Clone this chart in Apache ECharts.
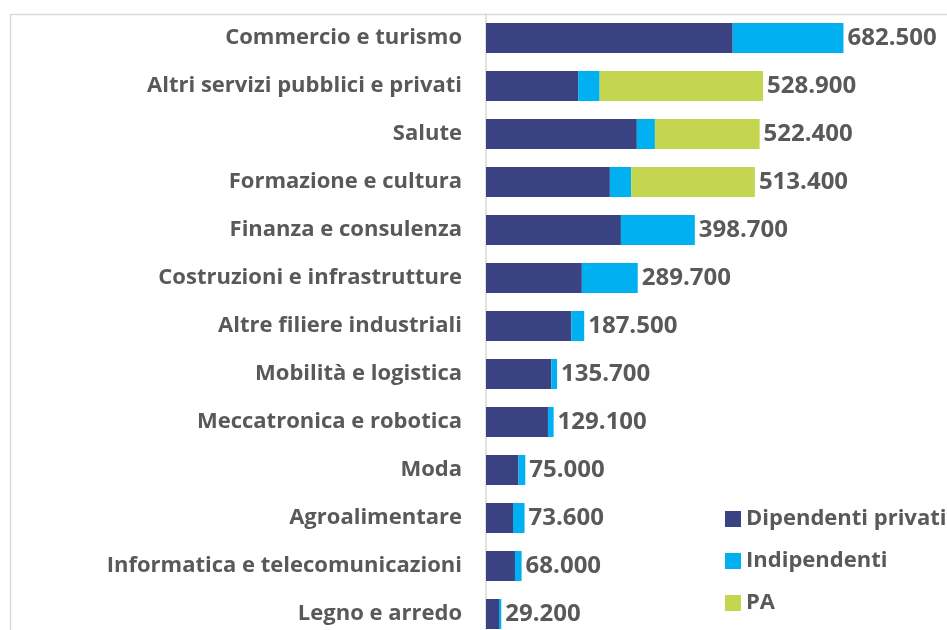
<!DOCTYPE html>
<html>
<head>
<meta charset="utf-8">
<script src="https://cdn.jsdelivr.net/npm/echarts@6/dist/echarts.min.js"></script>
<style>
  html, body { margin: 0; padding: 0; background: #fff; }
  #chart { width: 947px; height: 630px; }
</style>
</head>
<body>
<div id="chart"></div>
<script>
// settori, dall'alto verso il basso
const settori = [
  'Commercio e turismo',
  'Altri servizi pubblici e privati',
  'Salute',
  'Formazione e cultura',
  'Finanza e consulenza',
  'Costruzioni e infrastrutture',
  'Altre filiere industriali',
  'Mobilità e logistica',
  'Meccatronica e robotica',
  'Moda',
  'Agroalimentare',
  'Informatica e telecomunicazioni',
  'Legno e arredo'
]
// valori in migliaia
const dipendentiPrivati = [471, 176, 288, 236.5, 257.6, 183, 162.8, 124.7, 118.3, 62, 51.5, 55.3, 24.8]
const indipendenti = [211.5, 41, 34.5, 40.8, 141.1, 106.7, 24.7, 11, 10.8, 13, 22.1, 12.7, 4.4]
const pa = [0, 311.9, 199.9, 236.1, 0, 0, 0, 0, 0, 0, 0, 0, 0]
// totali mostrati come etichetta
const totali = [682500, 528900, 522400, 513400, 398700, 289700, 187500, 135700, 129100, 75000, 73600, 68000, 29200]

const grigio = '#595959'
const font = '"Open Sans", sans-serif'

function formatta (n) {
  return String(n).replace(/\B(?=(\d{3})+(?!\d))/g, '.')
}

const chart = echarts.init(document.getElementById('chart'))
chart.setOption({
  animation: false,
  color: ['#3a4282', '#00b0f0', '#c4d650'],
  graphic: [{
    type: 'rect',
    left: 8,
    top: 12,
    shape: { width: 1200, height: 900 },
    style: { fill: 'none', stroke: '#d9d9d9', lineWidth: 1.5 },
    silent: true
  }],
  legend: {
    data: ['Dipendenti privati', 'Indipendenti', 'PA'],
    orient: 'vertical',
    left: 720,
    top: 503,
    itemWidth: 16,
    itemHeight: 16,
    itemGap: 20,
    icon: 'rect',
    textStyle: { color: grigio, fontSize: 22, fontWeight: 'bold', fontFamily: font }
  },
  grid: {
    left: 486,
    right: 42,
    top: 14,
    height: 624,
    outerBoundsMode: 'none'
  },
  xAxis: {
    type: 'value',
    min: 0,
    max: 800,
    show: false
  },
  yAxis: {
    type: 'category',
    inverse: true,
    data: settori,
    axisLine: { lineStyle: { color: '#d9d9d9', width: 1.5 } },
    axisTick: { length: 6, lineStyle: { color: '#d9d9d9', width: 1.5 } },
    axisLabel: {
      margin: 24,
      color: grigio,
      fontSize: 22,
      fontWeight: 'bold',
      fontFamily: font
    }
  },
  series: [
    {
      name: 'Dipendenti privati',
      type: 'bar',
      stack: 'tot',
      barWidth: 30,
      data: dipendentiPrivati
    },
    {
      name: 'Indipendenti',
      type: 'bar',
      stack: 'tot',
      data: indipendenti
    },
    {
      name: 'PA',
      type: 'bar',
      stack: 'tot',
      data: pa
    },
    {
      name: 'Totale',
      type: 'bar',
      stack: 'tot',
      data: totali.map(() => 0),
      itemStyle: { color: 'transparent' },
      label: {
        show: true,
        position: 'right',
        distance: 4,
        color: grigio,
        fontSize: 24,
        fontWeight: 'bold',
        fontFamily: font,
        formatter: p => formatta(totali[p.dataIndex])
      }
    }
  ]
})
</script>
</body>
</html>
